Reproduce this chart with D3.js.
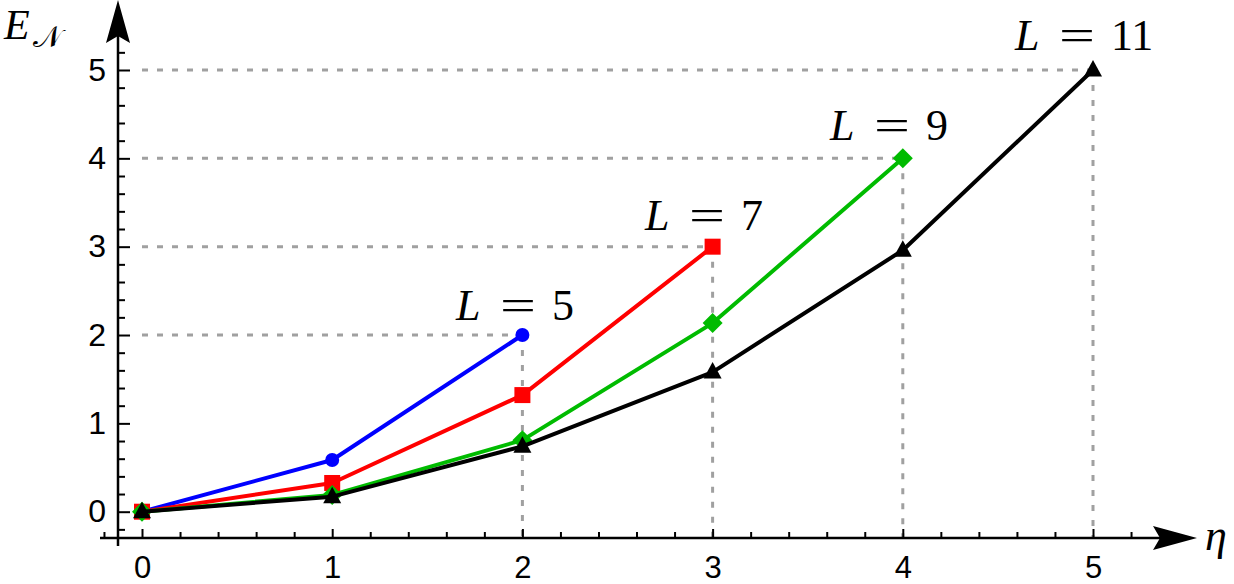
<!DOCTYPE html>
<html><head><meta charset="utf-8">
<script src="https://cdn.jsdelivr.net/npm/d3@7"></script>
<style>body{margin:0;background:#fff}svg{display:block}</style>
</head><body>
<script>
const etaValues = [0, 1, 2, 3, 4, 5];
const xTicks = [0, 1, 2, 3, 4, 5];
const yTicks = [0, 1, 2, 3, 4, 5];
const labelNames = ["5", "7", "9", "11"];
const seriesL5 = [0, 0.585, 2.0];
const seriesL7 = [0, 0.325, 1.32, 3.0];
const seriesL9 = [0, 0.19, 0.81, 2.135, 4.0];
const seriesL11 = [0, 0.17, 0.74, 1.58, 2.96, 5.0];
const colors = ["#0000ff", "#ff0000", "#00bb00", "#000000"];
const shapes = ["circle", "square", "diamond", "triangle"];
const series = [seriesL5, seriesL7, seriesL9, seriesL11];

const W = 1234, H = 584;
const svg = d3.select("body").append("svg").attr("width", W).attr("height", H);
const x = d3.scaleLinear().domain([0, 5]).range([142, 1093]);
const y = d3.scaleLinear().domain([0, 5]).range([511.7, 70]);
const axisY0 = 538, axisX0 = 118;

// dashed guides
series.forEach((s) => {
  const n = s.length - 1, v = s[n];
  svg.append("line").attr("x1", x(0)).attr("x2", x(n)).attr("y1", y(v)).attr("y2", y(v))
    .attr("stroke", "#a0a0a0").attr("stroke-width", 3).attr("stroke-dasharray", "6,9");
  svg.append("line").attr("x1", x(n)).attr("x2", x(n)).attr("y1", y(v)).attr("y2", axisY0)
    .attr("stroke", "#a0a0a0").attr("stroke-width", 3).attr("stroke-dasharray", "6,9");
});

const FONT = "Liberation Sans, Arial, sans-serif";
// x axis
const xMinor = d3.range(-0.2, 5.41, 0.2).map(v => +v.toFixed(2)).filter(v => Math.abs(v - Math.round(v)) > 1e-6);
const gxMinor = svg.append("g").attr("transform", `translate(0,${axisY0})`)
  .call(d3.axisBottom(x).tickValues(xMinor).tickFormat("").tickSizeInner(-6).tickSizeOuter(0));
const gx = svg.append("g").attr("transform", `translate(0,${axisY0})`)
  .call(d3.axisBottom(x).tickValues(xTicks).tickFormat(d3.format("d")).tickSizeInner(-9).tickSizeOuter(0).tickPadding(18));
[gx, gxMinor].forEach(g => { g.select(".domain").remove(); g.selectAll(".tick line").attr("stroke", "#000").attr("stroke-width", 2); });
gx.selectAll("text").attr("font-family", FONT).attr("font-size", 31).attr("fill", "#000");
svg.append("line").attr("x1", 100).attr("x2", 1160).attr("y1", axisY0).attr("y2", axisY0).attr("stroke", "#000").attr("stroke-width", 2.5);
svg.append("path").attr("d", `M1197,${axisY0} L1153,${axisY0 - 12} L1160,${axisY0} L1153,${axisY0 + 12} Z`).attr("fill", "#000");

// y axis
const yMinor = d3.range(-0.2, 5.41, 0.2).map(v => +v.toFixed(2)).filter(v => Math.abs(v - Math.round(v)) > 1e-6);
const gyMinor = svg.append("g").attr("transform", `translate(${axisX0},0)`)
  .call(d3.axisLeft(y).tickValues(yMinor).tickFormat("").tickSizeInner(-7).tickSizeOuter(0));
const gy = svg.append("g").attr("transform", `translate(${axisX0},0)`)
  .call(d3.axisLeft(y).tickValues(yTicks).tickFormat(d3.format("d")).tickSizeInner(-12).tickSizeOuter(0).tickPadding(12));
[gy, gyMinor].forEach(g => { g.select(".domain").remove(); g.selectAll(".tick line").attr("stroke", "#000").attr("stroke-width", 2); });
gy.selectAll("text").attr("font-family", FONT).attr("font-size", 32).attr("fill", "#000");
svg.append("line").attr("x1", axisX0).attr("x2", axisX0).attr("y1", 546).attr("y2", 36).attr("stroke", "#000").attr("stroke-width", 2.5);
svg.append("path").attr("d", `M${axisX0},0 L${axisX0 - 12},43 L${axisX0},36 L${axisX0 + 12},43 Z`).attr("fill", "#000");

// series
const line = d3.line().x((d, i) => x(etaValues[i])).y(d => y(d));
series.forEach((s, k) => {
  svg.append("path").attr("d", line(s)).attr("fill", "none").attr("stroke", colors[k]).attr("stroke-width", 4).attr("stroke-linejoin", "round");
  s.forEach((v, i) => {
    const cx = x(etaValues[i]), cy = y(v);
    const sh = shapes[k];
    let m;
    if (sh === "circle") m = svg.append("circle").attr("cx", cx).attr("cy", cy).attr("r", 7);
    else if (sh === "square") m = svg.append("rect").attr("x", cx - 8).attr("y", cy - 8).attr("width", 16).attr("height", 16);
    else if (sh === "diamond") m = svg.append("path").attr("d", `M${cx},${cy - 10} L${cx + 10},${cy} L${cx},${cy + 10} L${cx - 10},${cy} Z`);
    else m = svg.append("path").attr("d", `M${cx},${cy - 10} L${cx + 9},${cy + 6.5} L${cx - 9},${cy + 6.5} Z`);
    m.attr("fill", colors[k]);
  });
});

// L labels
const labelPos = [[456, 320], [645, 230], [830, 140], [1015, 50]];
labelNames.forEach((t, k) => {
  const g = svg.append("g").attr("font-family", "Liberation Serif, Times New Roman, serif").attr("font-size", 44).attr("fill", "#000");
  const [lx, ly] = labelPos[k];
  g.append("text").attr("x", lx).attr("y", ly).attr("font-style", "italic").text("L");
  g.append("text").attr("x", lx + 44).attr("y", ly).attr("transform", `translate(${lx + 44},${ly}) scale(1.45,1) translate(${-(lx + 44)},${-ly})`).text("=");
  g.append("text").attr("x", lx + 96).attr("y", ly).text(t);
});

// axis titles
svg.append("text").attr("x", 4).attr("y", 39).attr("font-family", "Liberation Serif, Times New Roman, serif").attr("font-size", 42).attr("font-style", "italic").text("E");
svg.append("text").attr("x", 33).attr("y", 47).attr("font-size", 30).attr("font-family", "DejaVu Serif, serif").text("𝒩");
svg.append("text").attr("x", 1205).attr("y", 550).attr("font-family", "Liberation Serif, Times New Roman, serif").attr("font-size", 44).attr("font-style", "italic").text("η");
</script>
</body></html>
